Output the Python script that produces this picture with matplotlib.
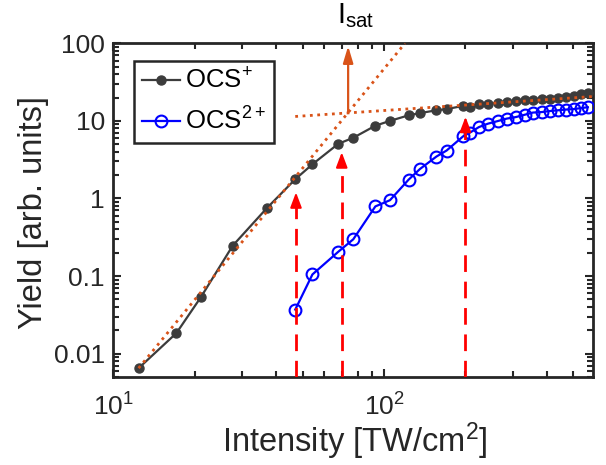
import numpy as np
import matplotlib
matplotlib.use("Agg")
import matplotlib.pyplot as plt
from matplotlib.ticker import NullFormatter

plt.rcParams['font.family'] = ['Liberation Sans', 'DejaVu Sans']
plt.rcParams['mathtext.fontset'] = 'custom'
plt.rcParams['mathtext.rm'] = 'Liberation Sans'
plt.rcParams['mathtext.it'] = 'Liberation Sans:italic'
plt.rcParams['mathtext.bf'] = 'Liberation Sans:bold'
plt.rcParams['mathtext.default'] = 'regular'

# intensity grid (TW/cm^2), shared by both ions
intensity = [12.4, 17.1, 21.1, 27.6, 36.9, 47.0, 54.4, 67.8, 77.0, 92.9,
             105.2, 123.3, 135.8, 156.2, 170.3, 196.2, 207.6, 224, 242, 263,
             284, 307, 331, 355, 383, 410, 439, 470, 503, 533, 566]

ocs1_yield = [0.0065, 0.0184, 0.054, 0.246, 0.75, 1.77, 2.76, 5.07, 6.06, 8.67,
              10.0, 11.8, 12.6, 13.7, 14.2, 15.6, 15.3, 16.4, 16.7, 17.0,
              17.5, 17.9, 18.4, 18.8, 19.0, 19.4, 20.0, 20.5, 21.2, 22.0, 22.9]

# OCS2+ starts at the 6th intensity point
ocs2_intensity = intensity[5:]
ocs2_yield = [0.037, 0.105, 0.206, 0.298, 0.79, 0.95, 1.75, 2.40, 3.47, 4.15,
              6.34, 7.05, 8.31, 9.2, 9.94, 10.7, 11.2, 12.0, 12.8, 13.0,
              13.4, 13.7, 14.0, 14.2, 14.6, 15.0]

# power-law fit (low intensity) and saturation fit, endpoints
steep_fit_x = [12.4, 119.5]
steep_fit_y = [0.0065, 100]
flat_fit_x = [47.0, 590]
flat_fit_y = [11.4, 20.6]

# I_sat (intersection of the two fits)
isat_x = 73.7
isat_y = 12.7

# red dashed arrows: intensity and tip height
arrow_x = [47.3, 69.8, 200]
arrow_tip = [1.2, 3.94, 11.3]

ytick_vals = [0.01, 0.1, 1, 10, 100]
ytick_labels = ['0.01', '0.1', '1', '10', '100']

axis_color = '#262626'
orange = '#d95319'

fig = plt.figure(figsize=(6.06, 4.65), dpi=100)
ax = fig.add_axes([0.187, 0.1892, 0.791, 0.7177])
ax.set_xscale('log')
ax.set_yscale('log')
ax.set_xlim(10, 590)
ax.set_ylim(0.005, 100)

ax.plot(intensity, ocs1_yield, '-o', color='#3c3c3c', lw=1.6, ms=6.5,
        mfc='#3c3c3c', mec='#3c3c3c', label='OCS$^{+}$', zorder=3)
ax.plot(ocs2_intensity, ocs2_yield, '-o', color='#0000ff', lw=1.6, ms=8.5,
        mfc='none', mec='#0000ff', mew=1.5, label='OCS$^{2+}$', zorder=3)

ax.plot(steep_fit_x, steep_fit_y, ':', color=orange, lw=2, zorder=4)
ax.plot(flat_fit_x, flat_fit_y, ':', color=orange, lw=2, zorder=4)

# I_sat arrow and label
ax.annotate('', xy=(isat_x, 92), xytext=(isat_x, isat_y),
            arrowprops=dict(arrowstyle='-|>,head_length=0.5,head_width=0.15',
                            color=orange, lw=1.6, mutation_scale=20,
                            shrinkA=0, shrinkB=0), zorder=5)
ax.text(67.0, 150, 'I$_{sat}$', fontsize=21, color='#000000',
        ha='left', va='bottom', clip_on=False)

# red dashed arrows
for xa, tip in zip(arrow_x, arrow_tip):
    base = tip * 10 ** (-12 / 77.2)
    ax.plot([xa, xa], [0.005, base], color='#ff0000', lw=2,
            linestyle=(0, (6, 3.5)), zorder=5)
    ax.annotate('', xy=(xa, tip), xytext=(xa, base),
                arrowprops=dict(arrowstyle='-|>,head_length=0.45,head_width=0.17',
                                color='#ff0000', lw=1.5, mutation_scale=20,
                                shrinkA=0, shrinkB=0), zorder=5)

ax.set_yticks(ytick_vals, labels=ytick_labels)
ax.xaxis.set_minor_formatter(NullFormatter())
ax.tick_params(which='both', direction='in', top=True, right=True,
               colors=axis_color, width=1.5)
ax.tick_params(which='major', length=6, labelsize=19)
ax.tick_params(which='minor', length=4)
ax.tick_params(axis='x', pad=12)
ax.tick_params(axis='y', pad=6)
for sp in ax.spines.values():
    sp.set_color(axis_color)
    sp.set_linewidth(2)

ax.set_xlabel('Intensity [TW/cm$^2$]', fontsize=23.5, color=axis_color)
ax.set_ylabel('Yield [arb. units]', fontsize=23.5, color=axis_color)
ax.xaxis.set_label_coords(0.504, -0.13)
ax.yaxis.set_label_coords(-0.135, 0.493)

leg = ax.legend(loc='upper left', bbox_to_anchor=(0.043, 0.948),
                borderaxespad=0, fontsize=18.5, frameon=True, fancybox=False,
                framealpha=1, edgecolor=axis_color, handlelength=1.5,
                handletextpad=0.2, borderpad=0.3, labelspacing=0.55)
leg.get_frame().set_linewidth(1.8)

fig.savefig('out.png', dpi=100)
